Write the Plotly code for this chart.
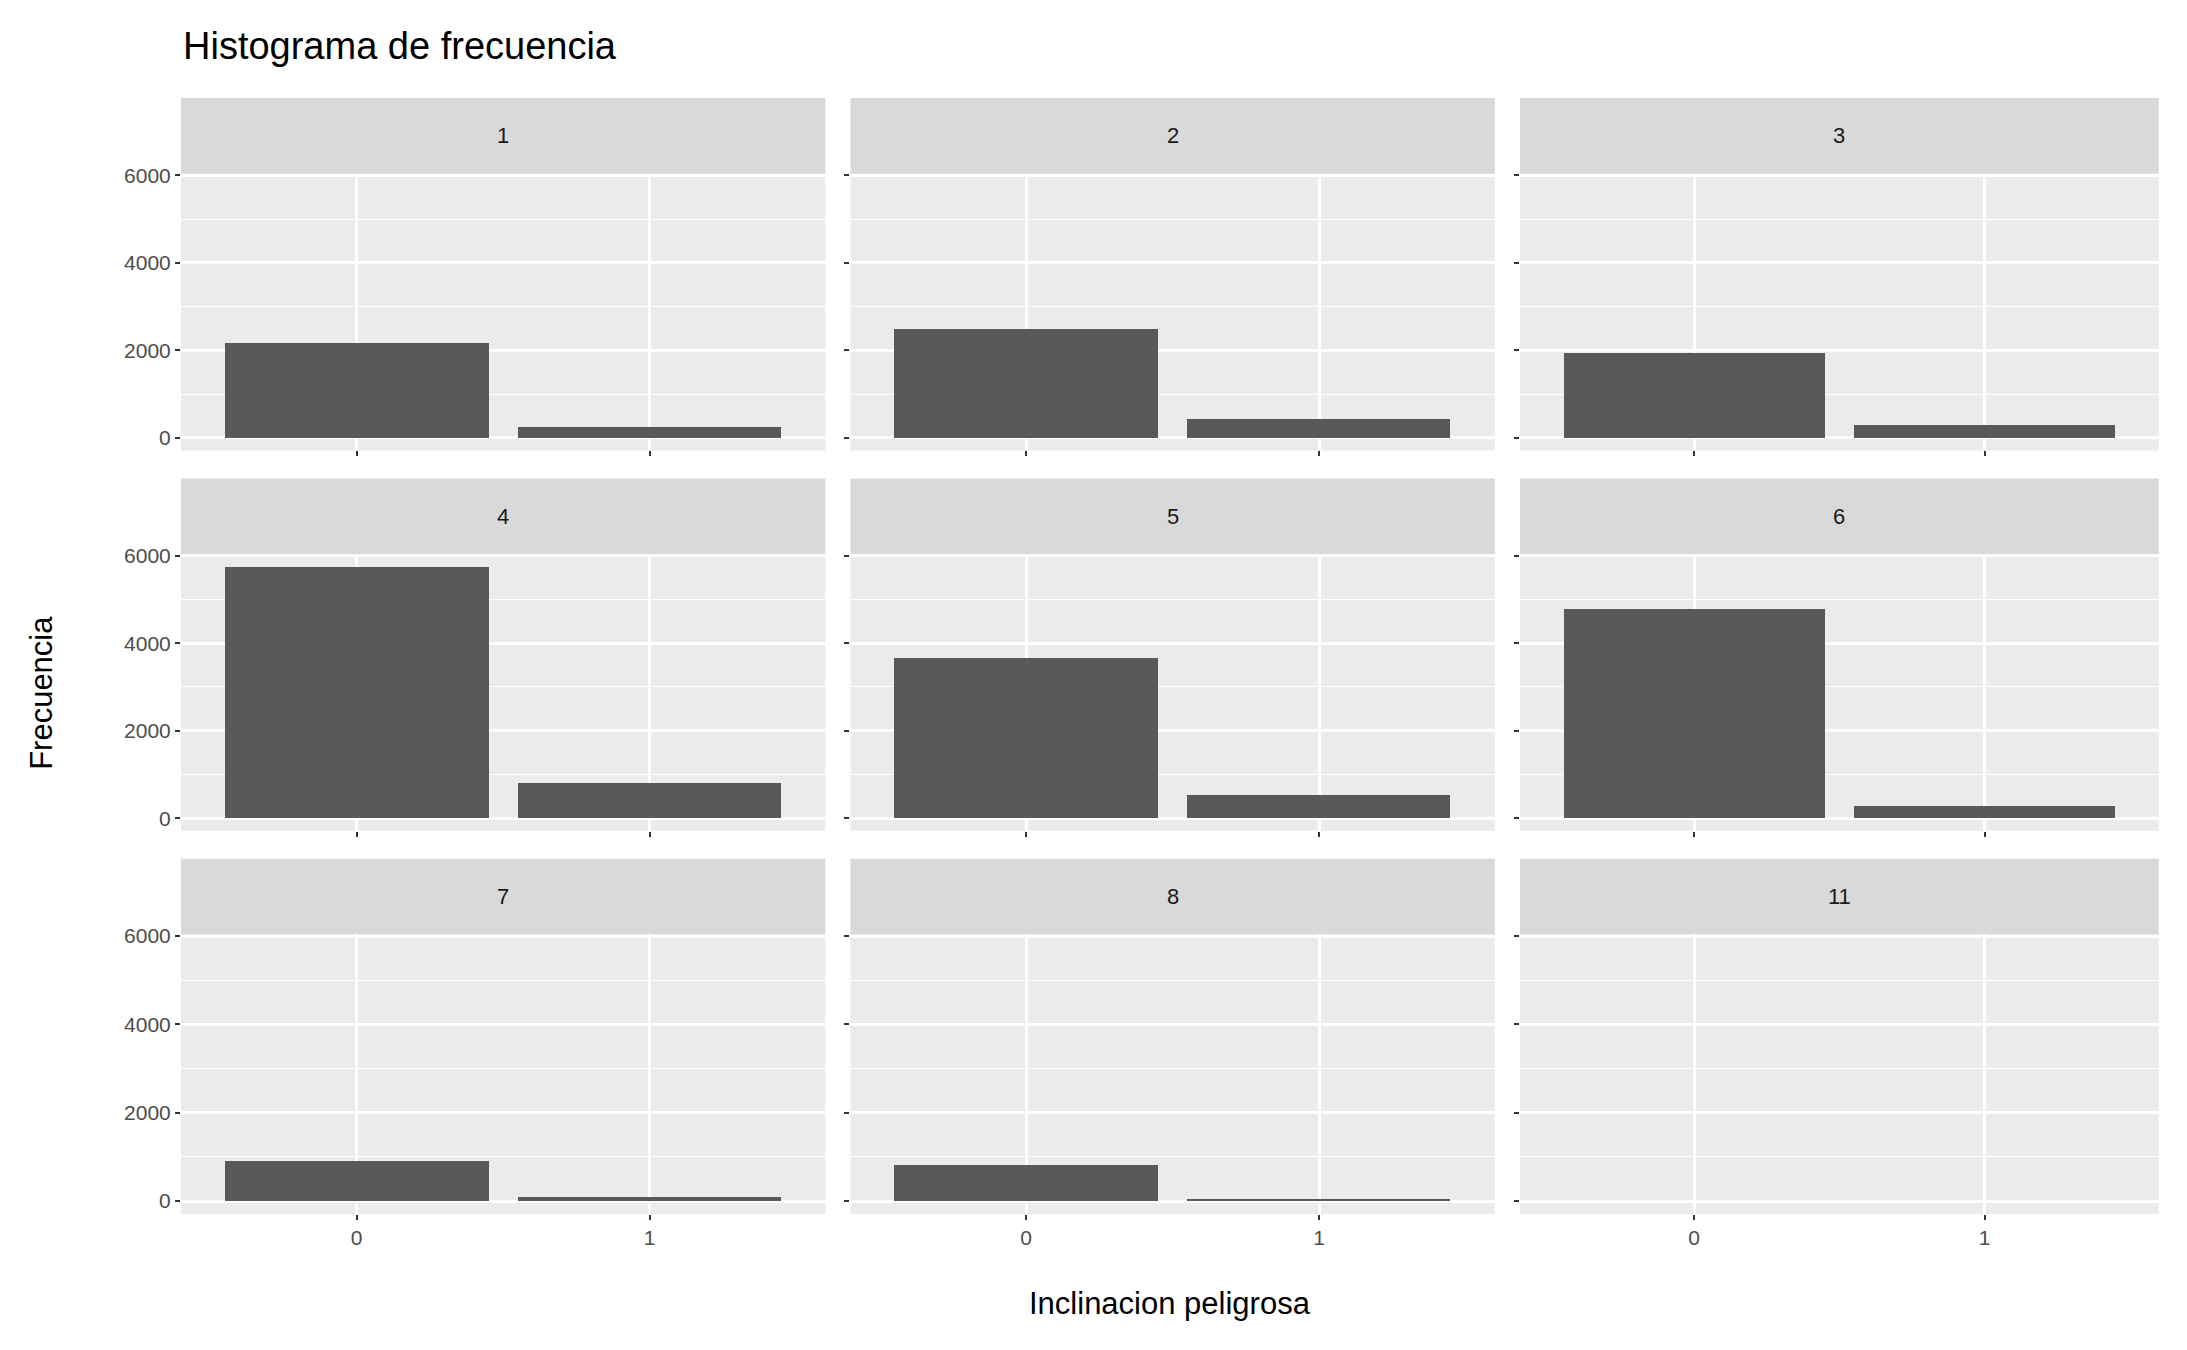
import plotly.graph_objects as go

grupos = ["1", "2", "3", "4", "5", "6", "7", "8", "11"]
categorias = ["0", "1"]
frec_0 = [2170, 2500, 1940, 5750, 3660, 4780, 910, 810, 0]
frec_1 = [250, 440, 310, 810, 530, 280, 90, 30, 0]

W, H = 1568.0, 968.0


def px(x):
    return (x - 6) / W


def py(y):
    return 1 - (y - 12.7) / 0.99 / H


cols = [(130, 592), (610, 1072), (1090, 1548)]
rows = [(70, 124, 322), (342, 396, 594), (614, 668, 868)]

fig = go.Figure()
for i, g in enumerate(grupos):
    r, c = divmod(i, 3)
    n = i + 1
    xa = "x" if n == 1 else "x%d" % n
    ya = "y" if n == 1 else "y%d" % n
    fig.add_trace(go.Bar(x=[0, 1], y=[frec_0[i], frec_1[i]], width=0.9,
                         marker=dict(color="#595959", line=dict(width=0)),
                         xaxis=xa, yaxis=ya, showlegend=False))
    x0, x1 = cols[c]
    st, pt, pb = rows[r]
    ax = dict(domain=[px(x0), px(x1)], range=[-0.6, 1.6], anchor=ya,
              tickvals=[0, 1], ticktext=categorias, showticklabels=(r == 2),
              showgrid=True, gridcolor="white", gridwidth=2.5,
              ticks="outside", ticklen=5, tickcolor="#333333", tickwidth=1.5,
              tickfont=dict(size=21, color="#4d4d4d"), zeroline=False)
    ay = dict(domain=[py(pb), py(pt)], range=[-290, 6040], anchor=xa,
              tickvals=[0, 2000, 4000, 6000], showticklabels=(c == 0),
              showgrid=True, gridcolor="white", gridwidth=2.5,
              minor=dict(tickvals=[1000, 3000, 5000], showgrid=True,
                         gridcolor="white", gridwidth=1.2),
              ticks="outside", ticklen=5, tickcolor="#333333", tickwidth=1.5,
              tickfont=dict(size=21, color="#4d4d4d"), zeroline=False)
    fig.layout["xaxis" if n == 1 else "xaxis%d" % n] = ax
    fig.layout["yaxis" if n == 1 else "yaxis%d" % n] = ay
    fig.add_shape(type="rect", xref="paper", yref="paper",
                  x0=px(x0), x1=px(x1), y0=py(pb), y1=py(pt),
                  fillcolor="#ebebeb", line=dict(width=0), layer="below")
    fig.add_shape(type="rect", xref="paper", yref="paper",
                  x0=px(x0), x1=px(x1), y0=py(pt), y1=py(st),
                  fillcolor="#d9d9d9", line=dict(width=0), layer="below")
    fig.add_annotation(text=g, xref="paper", yref="paper", showarrow=False,
                       x=px((x0 + x1) / 2), y=py((st + pt) / 2),
                       xanchor="center", yanchor="middle",
                       font=dict(size=22, color="#1a1a1a"))

fig.add_annotation(text="Inclinacion peligrosa", xref="paper", yref="paper",
                   x=px((130 + 1548) / 2), y=py(932), showarrow=False,
                   xanchor="center", yanchor="middle",
                   font=dict(size=31, color="black"))
fig.add_annotation(text="Frecuencia", xref="paper", yref="paper", textangle=-90,
                   x=px(30), y=py(495), showarrow=False,
                   xanchor="center", yanchor="middle",
                   font=dict(size=31, color="black"))
fig.add_annotation(text="Histograma de frecuencia", xref="paper", yref="paper",
                   x=px(130), y=py(33), xanchor="left", yanchor="middle",
                   showarrow=False, font=dict(size=38, color="black"))

fig.update_layout(width=2187, height=1350, margin=dict(l=0, r=0, t=0, b=0),
                  paper_bgcolor="white", plot_bgcolor="rgba(0,0,0,0)",
                  font=dict(family="Liberation Sans, Arial, sans-serif"),
                  bargap=0)
fig.write_html("out.html")
